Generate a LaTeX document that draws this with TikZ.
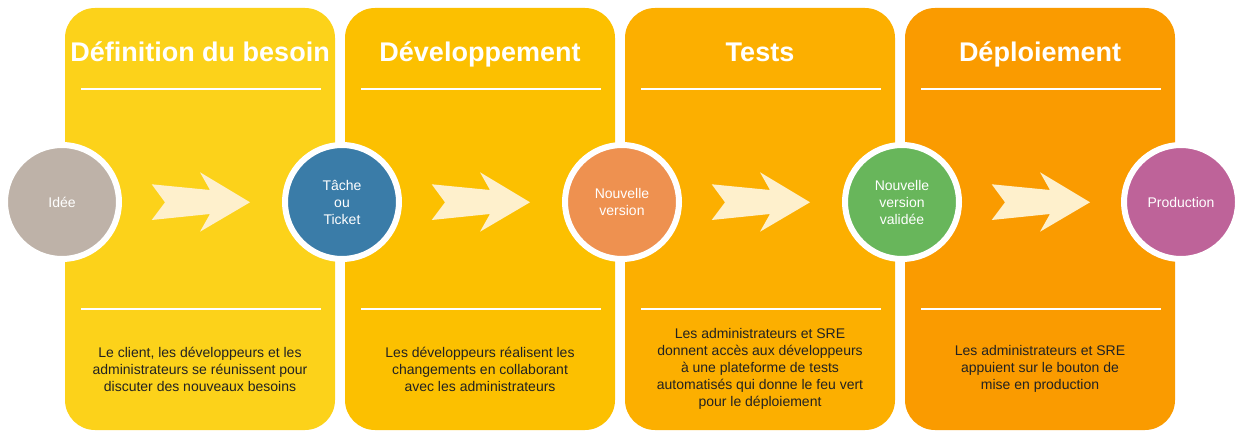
\documentclass[tikz,border=0pt]{standalone}
\usepackage{fontspec}
\setmainfont{Liberation Sans}
\usepackage{xcolor}
\usepackage{tikz}
\usetikzlibrary{positioning}
\definecolor{panelyellow}{HTML}{FCD21A}
\definecolor{panelgold}{HTML}{FCC000}
\definecolor{panelamber}{HTML}{FCAF00}
\definecolor{panelorange}{HTML}{FA9B00}
\definecolor{chevroncream}{HTML}{FEF0CC}
\definecolor{ideagray}{HTML}{BEB2A8}
\definecolor{ticketblue}{HTML}{3A7CA8}
\definecolor{versionorange}{HTML}{EE9150}
\definecolor{validgreen}{HTML}{68B65B}
\definecolor{prodpurple}{HTML}{BE6399}
\definecolor{inkgray}{HTML}{222222}
\tikzset{
  panelbox/.style={rounded corners=30pt,minimum width=270pt,minimum height=422pt,inner sep=0pt},
  titletext/.style={anchor=base,text=white,font=\fontsize{27}{32}\selectfont\bfseries},
  ruleline/.style={draw=white,line width=2pt},
  desctext/.style={align=center,text=inkgray,font=\fontsize{14}{17}\selectfont},
  stepcircle/.style={circle,draw=white,line width=6pt,minimum size=114pt,inner sep=0pt,align=center,text=white,font=\fontsize{14}{17}\selectfont},
  chevron/.style={fill=chevroncream},
}

\begin{document}
\begin{tikzpicture}[x=1pt,y=-1pt]
        \useasboundingbox (0,0) rectangle (1241,438);
        % phases
        \node[panelbox,fill=panelyellow] (p1) at (200,219) {};
        \node[panelbox,fill=panelgold] (p2) at (480,219) {};
        \node[panelbox,fill=panelamber] (p3) at (760,219) {};
        \node[panelbox,fill=panelorange] (p4) at (1040,219) {};
        \node[titletext] (t1) at (200,62) {Définition du besoin};
        \node[titletext] (t2) at (480,62) {Développement};
        \node[titletext] (t3) at (760,62) {Tests};
        \node[titletext] (t4) at (1040,62) {Déploiement};
        \foreach \dx in {0,280,560,840} {
          \draw[ruleline] (81+\dx,89) -- (321+\dx,89);
          \draw[ruleline] (81+\dx,309) -- (321+\dx,309);
          \fill[chevron,shift={(\dx,0)}] (151.7,184.3) -- (210,190) -- (200,172.3) -- (250,202.3) -- (200,231.7) -- (210,214) -- (151.7,220) -- (165,202.3) -- cycle;
        }
        \node[desctext] (d1) at (200,369) {Le client, les développeurs et les\\administrateurs se réunissent pour\\discuter des nouveaux besoins};
        \node[desctext] (d2) at (480,369) {Les développeurs réalisent les\\changements en collaborant\\avec les administrateurs};
        \node[desctext] (d3) at (760,369) {Les administrateurs et SRE\\donnent accès aux développeurs\\à une plateforme de tests\\automatisés qui donne le feu vert\\pour le déploiement};
        \node[desctext] (d4) at (1040,369) {Les administrateurs et SRE\\appuient sur le bouton de\\mise en production};
        % steps
        \node[stepcircle,fill=ideagray] (idea) at (62,202) {Idée};
        \node[stepcircle,fill=ticketblue] (ticket) at (342,202) {Tâche\\ou\\Ticket};
        \node[stepcircle,fill=versionorange] (version) at (622,202) {Nouvelle\\version};
        \node[stepcircle,fill=validgreen] (valid) at (902,202) {Nouvelle\\version\\validée};
        \node[stepcircle,fill=prodpurple] (prod) at (1181,202) {Production};
      \end{tikzpicture}
\end{document}
